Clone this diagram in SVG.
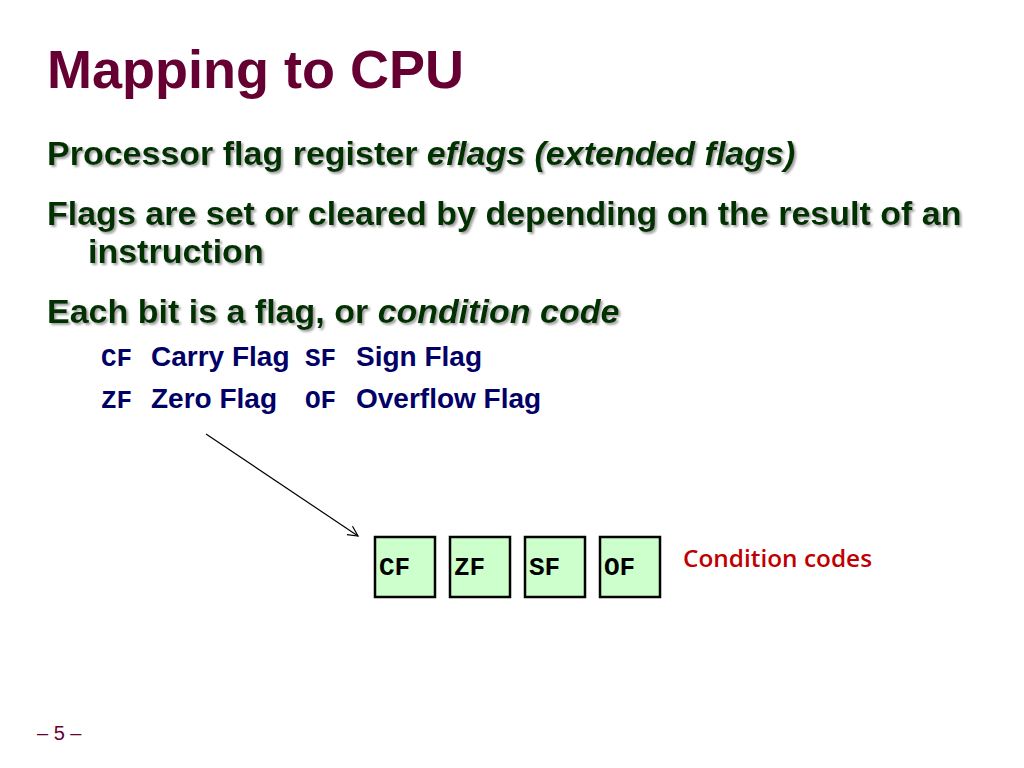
<svg xmlns="http://www.w3.org/2000/svg" width="1024" height="768" viewBox="0 0 1024 768">
<defs>
<filter id="sh" x="-5%" y="-20%" width="110%" height="150%">
<feDropShadow dx="2" dy="2" stdDeviation="0.8" flood-color="#8a8a8a" flood-opacity="0.8"/>
</filter>
<marker id="arr" viewBox="0 0 12 12" refX="11" refY="6" markerWidth="12" markerHeight="12" markerUnits="userSpaceOnUse" orient="auto">
<path d="M1,1 L11,6 L1,11" fill="none" stroke="#000" stroke-width="1.2"/>
</marker>
<style>
.title{font-family:"Liberation Sans",Arial,sans-serif;font-weight:bold;font-size:54px;fill:#660033}
.lvl1{font-family:"Liberation Sans",Arial,sans-serif;font-weight:bold;font-size:34px;fill:#003300;filter:url(#sh)}
.lvl2{font-family:"Liberation Sans",Arial,sans-serif;font-weight:bold;font-size:28px;fill:#000066}
.mono{font-family:"Liberation Mono","Courier New",monospace;font-weight:bold;font-size:26px}
.box{fill:#ccffcc;stroke:#000;stroke-width:2.5}
.boxt{font-family:"Liberation Mono","Courier New",monospace;font-weight:bold;font-size:26px;fill:#000}
.cc{font-family:"Open Sans","Liberation Sans",sans-serif;font-weight:600;font-size:24px;fill:#c00000}
.pg{font-family:"Liberation Sans",Arial,sans-serif;font-size:20px;fill:#660033}
</style>
</defs>
<rect width="1024" height="768" fill="#fff"/>
<text class="title" x="47" y="88">Mapping to CPU</text>
<text class="lvl1" x="47" y="165">Processor flag register <tspan font-style="italic">eflags (extended flags)</tspan></text>
<text class="lvl1" x="47" y="225">Flags are set or cleared by depending on the result of an</text>
<text class="lvl1" x="88" y="263">instruction</text>
<text class="lvl1" x="47" y="323">Each bit is a flag, or <tspan font-style="italic">condition code</tspan></text>
<g class="lvl2">
<text class="mono" x="101" y="366" fill="#000066">CF</text>
<text x="151" y="366">Carry Flag</text>
<text class="mono" x="305" y="366" fill="#000066">SF</text>
<text x="356" y="366">Sign Flag</text>
<text class="mono" x="101" y="408" fill="#000066">ZF</text>
<text x="151" y="408">Zero Flag</text>
<text class="mono" x="305" y="408" fill="#000066">OF</text>
<text x="356" y="408">Overflow Flag</text>
</g>
<g id="connectors">
<line x1="206" y1="434" x2="358" y2="536" stroke="#000" stroke-width="1.2" marker-end="url(#arr)"/>
</g>
<g id="node-cf"><rect class="box" x="375" y="537" width="60" height="60"/><text class="boxt" x="379" y="575">CF</text></g>
<g id="node-zf"><rect class="box" x="450" y="537" width="60" height="60"/><text class="boxt" x="454" y="575">ZF</text></g>
<g id="node-sf"><rect class="box" x="525" y="537" width="60" height="60"/><text class="boxt" x="529" y="575">SF</text></g>
<g id="node-of"><rect class="box" x="600" y="537" width="60" height="60"/><text class="boxt" x="604" y="575">OF</text></g>
<text class="cc" x="683" y="567" textLength="189" lengthAdjust="spacingAndGlyphs">Condition codes</text>
<text class="pg" x="37" y="740">– 5 –</text>
</svg>
